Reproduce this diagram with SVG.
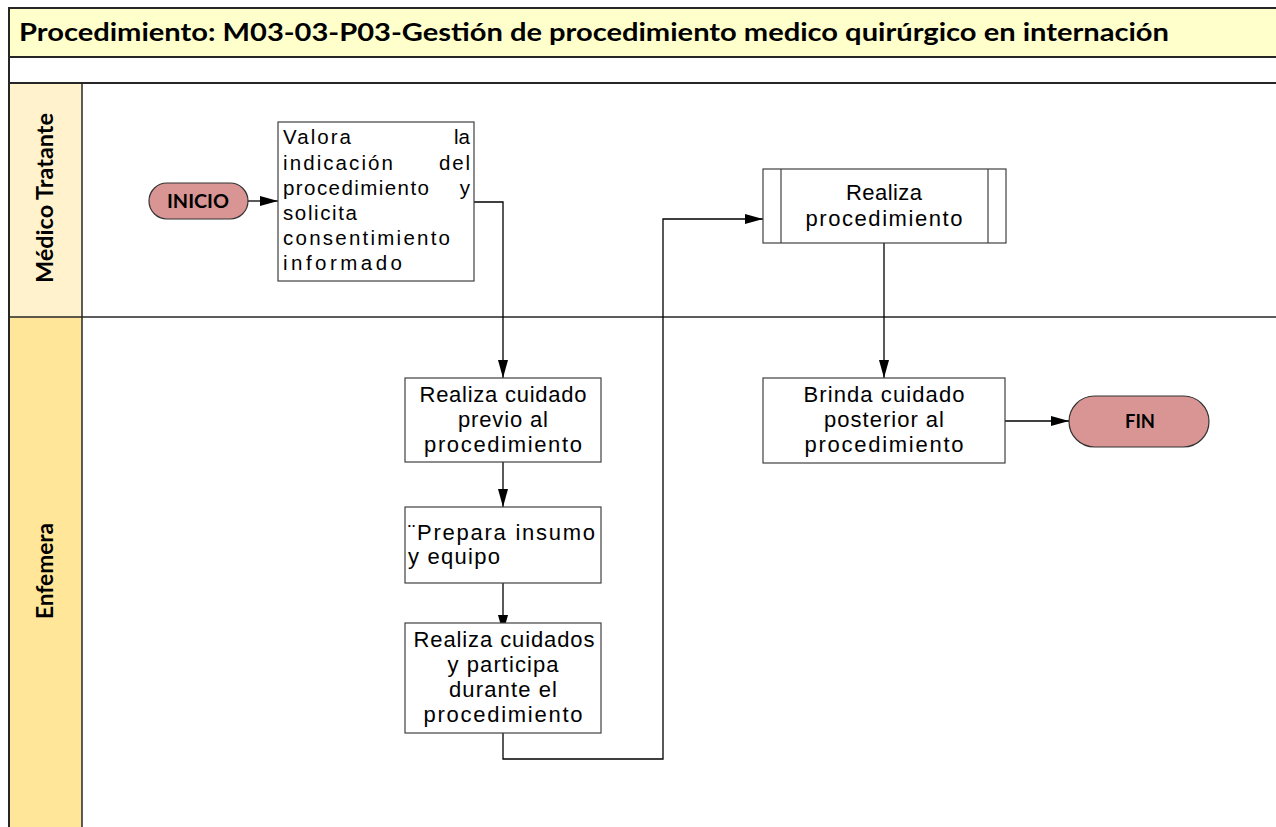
<svg xmlns="http://www.w3.org/2000/svg" width="1276" height="827" viewBox="0 0 1276 827">
<defs>
<marker id="arr" markerUnits="userSpaceOnUse" markerWidth="18" markerHeight="10" refX="18" refY="5" orient="auto"><path d="M0,0 L18,5 L0,10 z" fill="#000"/></marker>
<style>
.frame{stroke:#262626;stroke-width:2;fill:none}
.box{fill:#fff;stroke:#404040;stroke-width:1.2}
.term{fill:#D99594;stroke:#333;stroke-width:1.2}
.t{font-family:"Liberation Sans",Arial,sans-serif;fill:#000}
.c{text-anchor:middle;font-size:22px}
.v{font-size:20.5px}
.e{text-anchor:end}
.b{font-family:Lato,"Liberation Sans",sans-serif;font-weight:bold;fill:#000}
.conn{stroke:#000;stroke-width:1.3;fill:none}
</style>
</defs>
<rect x="0" y="0" width="1276" height="827" fill="#fff"/>
<g id="pool">
<rect x="9" y="8" width="1270" height="49" fill="#FFFFCC"/>
<rect x="9" y="83" width="73" height="234" fill="#FFF2CC"/>
<rect x="9" y="317" width="73" height="512" fill="#FFE699"/>
<line class="frame" x1="9" y1="8" x2="1276" y2="8"/>
<line class="frame" x1="9" y1="57" x2="1276" y2="57"/>
<line class="frame" x1="9" y1="83" x2="1276" y2="83"/>
<line class="frame" x1="9" y1="7" x2="9" y2="827"/>
<line class="frame" x1="82" y1="83" x2="82" y2="827" style="stroke-width:1.5"/>
<line class="frame" x1="9" y1="317" x2="1276" y2="317" style="stroke-width:1.5"/>
<text class="b" x="19" y="41" font-size="24.5" textLength="1150" lengthAdjust="spacingAndGlyphs">Procedimiento: M03-03-P03-Gestión de procedimiento medico quirúrgico en internación</text>
</g>
<g id="lane-medico">
<text class="b" font-size="22" text-anchor="middle" transform="translate(53,198) rotate(-90)" textLength="170" lengthAdjust="spacingAndGlyphs">Médico Tratante</text>
</g>
<g id="lane-enfemera">
<text class="b" font-size="22" text-anchor="middle" transform="translate(53,571) rotate(-90)" textLength="96" lengthAdjust="spacingAndGlyphs">Enfemera</text>
</g>
<g id="connectors">
<line class="conn" x1="248" y1="201" x2="278" y2="201" marker-end="url(#arr)"/>
<polyline class="conn" points="474,202 503,202 503,378" marker-end="url(#arr)"/>
<line class="conn" x1="503" y1="462" x2="503" y2="507" marker-end="url(#arr)"/>
<line class="conn" x1="503" y1="583" x2="503" y2="633" marker-end="url(#arr)"/>
<polyline class="conn" points="503,733 503,759 663,759 663,219 763,219" marker-end="url(#arr)"/>
<line class="conn" x1="884" y1="243" x2="884" y2="378" marker-end="url(#arr)"/>
<line class="conn" x1="1005" y1="421" x2="1069" y2="421" marker-end="url(#arr)"/>
</g>
<g id="inicio">
<rect class="term" x="149" y="183" width="99" height="36" rx="18"/>
<text class="b" x="198" y="208" font-size="19" text-anchor="middle" textLength="62" lengthAdjust="spacingAndGlyphs">INICIO</text>
</g>
<g id="valora">
<rect class="box" x="278" y="122" width="196" height="159"/>
<g class="t v">
<text x="283" y="144" textLength="68" lengthAdjust="spacing">Valora</text>
<text class="e" x="470" y="144">la</text>
<text x="283" y="170" textLength="110" lengthAdjust="spacing">indicación</text>
<text class="e" x="470" y="170" textLength="31" lengthAdjust="spacing">del</text>
<text x="283" y="195" textLength="146" lengthAdjust="spacing">procedimiento</text>
<text class="e" x="470" y="195">y</text>
<text x="283" y="220" textLength="74" lengthAdjust="spacing">solicita</text>
<text x="283" y="245" textLength="167" lengthAdjust="spacing">consentimiento</text>
<text x="283" y="270" textLength="119" lengthAdjust="spacing">informado</text>
</g>
</g>
<g id="realiza-procedimiento">
<rect class="box" x="763" y="169" width="243" height="74"/>
<line x1="781" y1="169" x2="781" y2="243" stroke="#404040" stroke-width="1.2"/>
<line x1="988" y1="169" x2="988" y2="243" stroke="#404040" stroke-width="1.2"/>
<g class="t c">
<text x="884" y="200" textLength="76" lengthAdjust="spacing">Realiza</text>
<text x="884" y="226" textLength="157" lengthAdjust="spacing">procedimiento</text>
</g>
</g>
<g id="cuidado-previo">
<rect class="box" x="405" y="378" width="196" height="84"/>
<g class="t c">
<text x="503" y="402" textLength="167" lengthAdjust="spacing">Realiza cuidado</text>
<text x="503" y="427" textLength="90" lengthAdjust="spacing">previo al</text>
<text x="503" y="452" textLength="158" lengthAdjust="spacing">procedimiento</text>
</g>
</g>
<g id="prepara">
<rect class="box" x="405" y="507" width="196" height="76"/>
<g class="t" font-size="22">
<text x="408" y="540" textLength="187" lengthAdjust="spacing">¨Prepara insumo</text>
<text x="408" y="564" textLength="92" lengthAdjust="spacing">y equipo</text>
</g>
</g>
<g id="cuidados-durante">
<rect class="box" x="405" y="623" width="196" height="110"/>
<g class="t c">
<text x="504" y="647" textLength="181" lengthAdjust="spacing">Realiza cuidados</text>
<text x="503" y="672" textLength="111" lengthAdjust="spacing">y participa</text>
<text x="503" y="697" textLength="108" lengthAdjust="spacing">durante el</text>
<text x="503" y="722" textLength="159" lengthAdjust="spacing">procedimiento</text>
</g>
</g>
<g id="brinda">
<rect class="box" x="763" y="378" width="242" height="85"/>
<g class="t c">
<text x="884" y="402" textLength="161" lengthAdjust="spacing">Brinda cuidado</text>
<text x="884" y="427" textLength="120" lengthAdjust="spacing">posterior al</text>
<text x="884" y="452" textLength="159" lengthAdjust="spacing">procedimiento</text>
</g>
</g>
<g id="fin">
<rect class="term" x="1069" y="396" width="140" height="51" rx="25.5"/>
<text class="b" x="1140" y="428" font-size="19" text-anchor="middle" textLength="30" lengthAdjust="spacingAndGlyphs">FIN</text>
</g>
</svg>
